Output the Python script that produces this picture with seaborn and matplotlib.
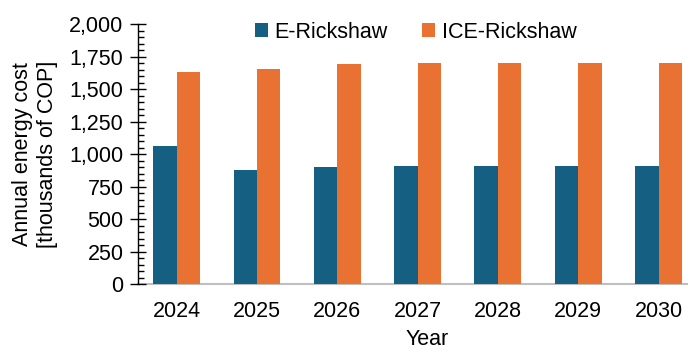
import matplotlib
matplotlib.use("Agg")
import matplotlib.pyplot as plt
from matplotlib.ticker import MultipleLocator, FuncFormatter
import seaborn as sns
import pandas as pd

years = ["2024", "2025", "2026", "2027", "2028", "2029", "2030"]
e_rickshaw = [1061, 880, 900, 905, 905, 905, 905]
ice_rickshaw = [1634, 1657, 1695, 1700, 1700, 1703, 1703]
series_names = ["E-Rickshaw", "ICE-Rickshaw"]
colors = ["#156082", "#E97132"]

df = pd.DataFrame({
    "Year": years * 2,
    "Cost": e_rickshaw + ice_rickshaw,
    "Vehicle": [series_names[0]] * len(years) + [series_names[1]] * len(years),
})

sns.set_theme(style="white")
plt.rcParams["font.family"] = ["Liberation Sans", "DejaVu Sans"]
plt.rcParams["text.color"] = "black"
plt.rcParams["axes.labelcolor"] = "black"
plt.rcParams["xtick.color"] = "black"
plt.rcParams["ytick.color"] = "black"

FS = 15.5

fig = plt.figure(figsize=(6.88, 3.49), dpi=100)
ax = fig.add_axes([138 / 688, 1 - 284 / 349, 550 / 688, 260 / 349])

sns.barplot(data=df, x="Year", y="Cost", hue="Vehicle", palette=colors,
            width=0.585, gap=0, linewidth=0, saturation=1, ax=ax)

ax.set_ylim(0, 2000)
ax.set_xlim(-0.482, 6.367)
ax.yaxis.set_major_locator(MultipleLocator(250))
ax.yaxis.set_minor_locator(MultipleLocator(50))
ax.yaxis.set_major_formatter(FuncFormatter(lambda v, p: f"{int(v):,}"))

ax.tick_params(axis="y", which="major", direction="inout", length=11, width=1,
               color="black", labelsize=FS, pad=5, left=True)
ax.tick_params(axis="y", which="minor", direction="in", length=4, width=1,
               color="black", left=True)
ax.tick_params(axis="x", length=0, labelsize=FS, pad=12)

for s in ["top", "right"]:
    ax.spines[s].set_visible(False)
ax.spines["left"].set_color("black")
ax.spines["left"].set_linewidth(1)
ax.spines["bottom"].set_color("#bfbfbf")
ax.spines["bottom"].set_linewidth(1.5)
ax.spines["bottom"].set_zorder(0.5)

ax.set_ylabel("Annual energy cost\n[thousands of COP]", fontsize=FS,
              linespacing=1.25)
ax.yaxis.set_label_coords(-0.145, 0.5)
ax.set_xlabel("Year", fontsize=FS)
ax.xaxis.set_label_coords(0.525, -0.172)

handles, labels = ax.get_legend_handles_labels()
ax.legend(handles, labels, loc="center", bbox_to_anchor=(0.505, 0.969),
          ncol=2, frameon=False, fontsize=FS, handlelength=0.6,
          handleheight=0.6, handletextpad=0.3, columnspacing=1.6,
          borderpad=0)

fig.savefig("out.png", dpi=100)
